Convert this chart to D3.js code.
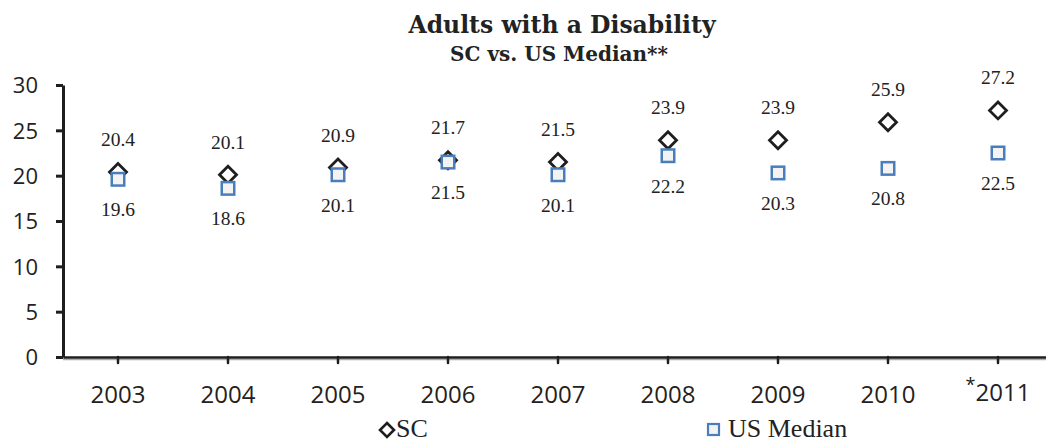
<!DOCTYPE html>
<html><head><meta charset="utf-8">
<script src="https://cdn.jsdelivr.net/npm/d3@7/dist/d3.min.js"></script>
<style>body{margin:0;background:#fff}svg{display:block}</style>
</head><body>
<svg id="c" width="1046" height="444"></svg>
<script>
const years = ["2003","2004","2005","2006","2007","2008","2009","2010","*2011"];
const scValues = [20.4,20.1,20.9,21.7,21.5,23.9,23.9,25.9,27.2];
const usValues = [19.6,18.6,20.1,21.5,20.1,22.2,20.3,20.8,22.5];
const yTicks = [0,5,10,15,20,25,30];
const seriesNames = ["SC","US Median"];
const titleText = "Adults with a Disability";
const subtitleText = "SC vs. US Median**";

const svg = d3.select("#c");
const x = d3.scaleBand().domain(years).range([63,1053]).padding(0);
const y = d3.scaleLinear().domain([0,30]).range([357,85]);
const serif = "'Liberation Serif', serif";
const tserif = "'DejaVu Serif', serif";
const sans = "'Open Sans', sans-serif";
const dark = "#1e1e1e";
const blue = "#4a7ebb";

// title
svg.append("text").attr("x",562).attr("y",33).attr("text-anchor","middle")
  .attr("font-family",tserif).attr("font-weight","bold").attr("font-size",23.5).attr("fill","#222").text(titleText);
svg.append("text").attr("x",559).attr("y",61).attr("text-anchor","middle")
  .attr("font-family",tserif).attr("font-weight","bold").attr("font-size",20).attr("fill","#222").text(subtitleText);

// y axis
const ya = svg.append("g").attr("transform","translate(63,0)")
  .call(d3.axisLeft(y).tickValues(yTicks).tickSize(7).tickSizeOuter(0).tickPadding(18));
ya.select(".domain").attr("stroke",dark).attr("stroke-width",3);
ya.selectAll(".tick line").attr("stroke",dark).attr("stroke-width",3);
ya.selectAll(".tick text").attr("font-family",sans).attr("font-size",22).attr("fill","#222").attr("dy","0.35em");

// x axis
svg.append("line").attr("x1",63).attr("x2",1046).attr("y1",359.5).attr("y2",359.5).attr("stroke","#aaa").attr("stroke-width",1.5);
const xa = svg.append("g").attr("transform","translate(0,357)")
  .call(d3.axisBottom(x).tickSize(6).tickSizeOuter(0).tickPadding(23));
xa.select(".domain").attr("stroke",dark).attr("stroke-width",2.5);
xa.selectAll(".tick line").attr("stroke",dark).attr("stroke-width",2.5).attr("stroke-linecap","round");
xa.selectAll(".tick text").attr("font-family",sans).attr("font-size",24).attr("fill","#222").attr("dy","0.71em")
  .each(function(d){
    const t = d3.select(this);
    if (d.startsWith("*")) {
      t.text(null);
      t.append("tspan").attr("font-size",18).attr("dy","0.3em").text("*");
      t.append("tspan").attr("dy","0.42em").text(d.slice(1));
    }
  });

const xc = d => x(d) + x.bandwidth()/2;
const diamond = (cx,cy,r) => `M${cx},${cy-r}L${cx+r},${cy}L${cx},${cy+r}L${cx-r},${cy}Z`;

// SC diamonds
svg.append("g").selectAll("path").data(scValues).join("path")
  .attr("d",(d,i)=>diamond(xc(years[i]),y(d),8.5))
  .attr("fill","none").attr("stroke",dark).attr("stroke-width",2.8).attr("stroke-linejoin","miter");
// US series squares (drawn over the diamonds)
svg.append("g").selectAll("rect").data(usValues).join("rect")
  .attr("x",(d,i)=>xc(years[i])-6.25).attr("y",d=>y(d)-6.25).attr("width",12.5).attr("height",12.5)
  .attr("fill","#f3f3f3").attr("stroke",blue).attr("stroke-width",2.5);

// labels
svg.append("g").selectAll("text").data(scValues).join("text")
  .attr("x",(d,i)=>xc(years[i])).attr("y",d=>y(d)-26).attr("text-anchor","middle")
  .attr("font-family",serif).attr("font-size",19.5).attr("fill","#222").text(d=>d.toFixed(1));
svg.append("g").selectAll("text").data(usValues).join("text")
  .attr("x",(d,i)=>xc(years[i])).attr("y",d=>y(d)+37).attr("text-anchor","middle")
  .attr("font-family",serif).attr("font-size",19.5).attr("fill","#222").text(d=>d.toFixed(1));

// legend
const lg = svg.append("g");
lg.append("path").attr("d",diamond(387,430,7)).attr("fill","none").attr("stroke",dark).attr("stroke-width",2.6);
lg.append("text").attr("x",396).attr("y",437).attr("font-family",serif).attr("font-size",26).attr("fill","#222").text(seriesNames[0]);
lg.append("rect").attr("x",708).attr("y",424).attr("width",11).attr("height",11).attr("fill","#f3f3f3").attr("stroke",blue).attr("stroke-width",2.2);
lg.append("text").attr("x",728).attr("y",437).attr("font-family",serif).attr("font-size",26).attr("fill","#222").text(seriesNames[1]);
</script>
</body></html>
